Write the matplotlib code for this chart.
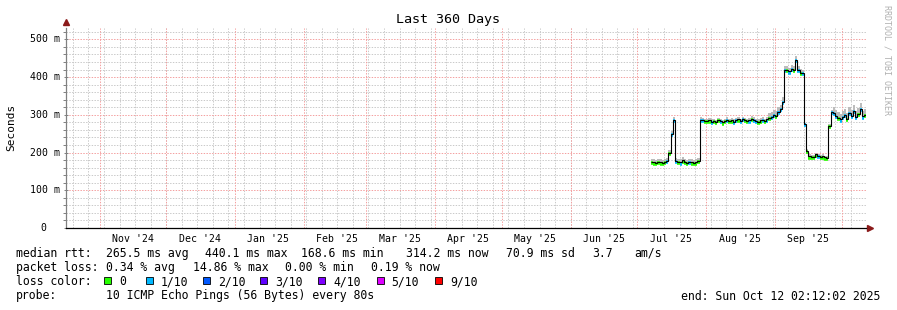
import numpy as np
import pandas as pd
import matplotlib
matplotlib.use('Agg')
import matplotlib.pyplot as plt
import matplotlib.dates as mdates
import matplotlib.transforms as mtransforms
from matplotlib.patches import Rectangle

plt.rcParams['font.family'] = 'DejaVu Sans Mono'

W, H = 897, 310

# graph window (360 days)
t_start = pd.Timestamp('2024-10-17 02:12:02')
t_end = pd.Timestamp('2025-10-12 02:12:02')

# daily median rtt (ms), Jul 7 .. Oct 11 2025
day_edges = pd.date_range('2025-07-07', '2025-10-12', freq='D')
median_ms = [176, 174, 173, 175, 174, 172, 175, 178, 200,
             250, 287, 178,
             176, 174, 179, 175, 173, 176, 174, 172, 174, 178,
             287,
             286, 284, 283, 285, 282, 284, 281, 286, 283, 280,
             284, 287, 283, 285, 282, 286, 288, 284, 289, 286,
             283, 285, 290, 287, 284, 282, 285, 287, 284, 288,
             292, 295, 300, 298, 308, 315, 335,
             418, 420, 415, 422, 418, 445, 420, 412, 410,
             275, 205,
             190, 188, 189, 195, 192, 188, 190, 187, 186,
             270, 308,
             305, 298, 292, 288, 295, 300, 290, 305, 298, 310,
             295, 302, 315, 296, 300]
# packet loss per day (tenths)
loss = [0, 0, 0, 0, 0, 0, 0, 1, 0,
        1, 1, 1,
        0, 1, 0, 0, 0, 1, 0, 0, 0, 0,
        1,
        1, 0, 0, 0, 1, 0, 0, 0, 1, 0,
        0, 1, 0, 0, 1, 1, 0, 1, 1, 0,
        0, 1, 0, 1, 1, 0, 0, 1, 0, 1,
        0, 1, 1, 0, 1, 1, 1,
        1, 0, 1, 1, 0, 1, 1, 0, 1,
        1, 0,
        0, 0, 0, 0, 1, 0, 0, 0, 0,
        0, 1,
        1, 1, 0, 1, 1, 1, 0, 1, 1, 1,
        1, 0, 1, 1, 0]
# smoke spread above the median (ms)
smoke_ms = [8] * 22 + [6] * 31 + [12] * 7 + [10] * 9 + [4] * 2 + [5] * 9 + [6] * 2 + [15] * 15

loss_levels = ['0', '1/10', '2/10', '3/10', '4/10', '5/10', '9/10']
loss_colors = ['#26ff00', '#00b8ff', '#0059ff', '#5e00ff', '#7e00ff', '#dd00ff', '#ff0000']

month_labels = ["Nov '24", "Dec '24", "Jan '25", "Feb '25", "Mar '25", "Apr '25",
                "May '25", "Jun '25", "Jul '25", "Aug '25", "Sep '25"]
y_ticks = [0, 100, 200, 300, 400, 500]
y_labels = ['0', '100 m', '200 m', '300 m', '400 m', '500 m']

fig = plt.figure(figsize=(W / 100, H / 100), dpi=100)
ax = fig.add_axes([66.4 / W, (H - 228) / H, 800 / W, 200 / H])

x0, x1 = mdates.date2num(t_start), mdates.date2num(t_end)
ax.set_xlim(x0, x1)
ax.set_ylim(0, 530)

# grid (dotted)
dot = (0, (1.4, 1.4))
gkw = dict(lw=0.72, linestyle=dot)
weeks = pd.date_range('2024-10-20', t_end, freq='7D')
months = pd.date_range('2024-11-01', t_end, freq='MS')
ax.vlines(mdates.date2num(weeks), 0, 530, color='#cacaca', zorder=0, **gkw)
for v in range(20, 530, 20):
    if v % 100:
        ax.axhline(v, color='#cacaca', zorder=0, **gkw)
for v in y_ticks[1:]:
    ax.axhline(v, color='#f4a0a0', zorder=0.5, **gkw)
ax.vlines(mdates.date2num(months), 0, 530, color='#f4a0a0', zorder=0.5, **gkw)

# data
edges = mdates.date2num(day_edges)
med = np.array(median_ms, dtype=float)
spread = np.array(smoke_ms, dtype=float)
ax.stairs(med + spread, edges, baseline=med - 2, fill=True, color='#bcbcbc', lw=0, zorder=2)
shift = mtransforms.offset_copy(ax.transData, fig=fig, y=-1.2, units='dots')
ax.hlines(med, edges[:-1], edges[1:], colors=[loss_colors[l] for l in loss],
          lw=2.6, transform=shift, zorder=3)
ax.stairs(med, edges, baseline=None, color='black', lw=0.8, zorder=4)

# axes
for s in ['top', 'right']:
    ax.spines[s].set_visible(False)
ax.spines['left'].set_color('#808080')
ax.spines['left'].set_linewidth(0.9)
ax.spines['bottom'].set_color('black')
ax.spines['bottom'].set_linewidth(0.9)
ax.plot([0], [1.03], marker='^', ms=4.5, color='#8b1a1a', transform=ax.transAxes, clip_on=False)
ax.plot([1.005], [0], marker='>', ms=4.5, color='#8b1a1a', transform=ax.transAxes, clip_on=False)

ax.set_yticks(y_ticks)
ax.set_yticks(range(20, 530, 20), minor=True)
ax.set_yticklabels([])
ax.tick_params(axis='y', which='major', length=3, width=0.7, color='#808080', direction='inout')
ax.tick_params(axis='y', which='minor', length=2, width=0.7, color='#808080', direction='out')
for v, lab in zip(y_ticks, y_labels):
    xr = -0.008 if v else -0.0245
    ax.text(xr, v, lab, transform=ax.get_yaxis_transform(), ha='right', va='center', fontsize=7.1)

mids = pd.date_range('2024-11-01', '2025-09-30', freq='MS') + pd.Timedelta(days=15)
ax.set_xticks(mdates.date2num(mids))
ax.set_xticklabels(month_labels, fontsize=7.1)
ax.tick_params(axis='x', length=0, pad=4)
ax.tick_params(axis='x', which='minor', length=0)


def ftext(x, y, s, **kw):
    fig.text(x / W, 1 - y / H, s, va='center', fontsize=8.3, **kw)


fig.text(448 / W, 1 - 19.5 / H, 'Last 360 Days', ha='center', va='center', fontsize=9.6)
fig.text(10.8 / W, 1 - 127.5 / H, 'Seconds', rotation=90, ha='center', va='center', fontsize=8)
fig.text(887 / W, 1 - 60 / H, 'RRDTOOL / TOBI OETIKER', rotation=270, ha='center', va='center',
         fontsize=6, color='#b0b0b0')

row1 = [(16, 'median rtt:'), (106, '265.5 ms avg'), (205, '440.1 ms max'), (301, '168.6 ms min'),
        (406, '314.2 ms now'), (506, '70.9 ms sd'), (592, '3.7'), (634, 'am/s')]
row2 = [(16, 'packet loss:'), (106, '0.34 % avg'), (193, '14.86 % max'), (285, '0.00 % min'),
        (371, '0.19 % now')]
for x, s in row1:
    ftext(x, 253.5, s)
for x, s in row2:
    ftext(x, 267.5, s)

ftext(16, 281.7, 'loss color:')
box_x = [104, 145.7, 202.7, 260, 318.3, 376.7, 435]
for bx, lab, c in zip(box_x, loss_levels, loss_colors):
    fig.patches.append(Rectangle((bx / W, 1 - 284 / H), 7 / W, 7 / H, transform=fig.transFigure,
                                 facecolor=c, edgecolor='black', lw=0.6))
    ftext(bx + 15, 281.7, lab)

ftext(16, 296, 'probe:')
ftext(106, 296, '10 ICMP Echo Pings (56 Bytes) every 80s')
ftext(880, 296, 'end: Sun Oct 12 02:12:02 2025', ha='right')

fig.savefig('out.png', dpi=100, facecolor='white')
